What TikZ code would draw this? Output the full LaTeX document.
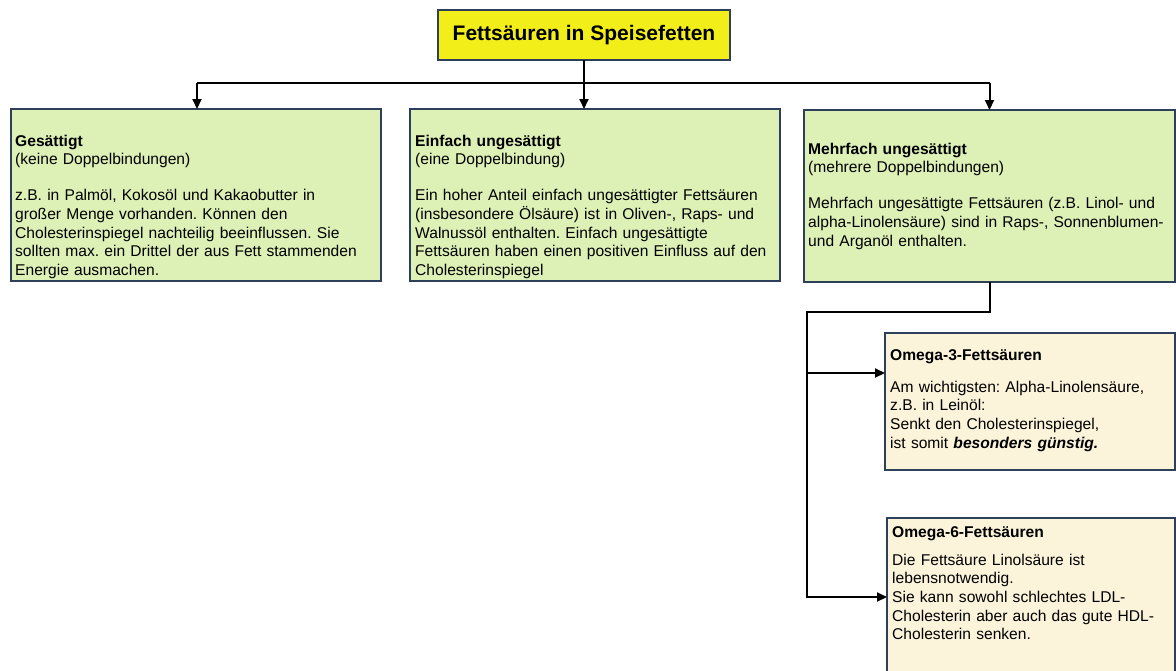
\documentclass[tikz,border=0pt]{standalone}
\usepackage{fontspec}
\setmainfont{Liberation Sans}
\usetikzlibrary{arrows.meta}
\frenchspacing
\definecolor{frame}{HTML}{2E3F5C}
\definecolor{titlefill}{HTML}{F2EE1A}
\definecolor{greenfill}{HTML}{DDF0B6}
\definecolor{creamfill}{HTML}{FBF3DA}
\tikzset{
  box/.style={draw=frame, line width=1.8pt, anchor=north west, inner sep=0pt, outer sep=0pt},
  gbox/.style={box, fill=greenfill},
  obox/.style={box, fill=creamfill},
  txt/.style={anchor=base west, inner sep=0pt, align=left, text width=370pt,
    font=\fontsize{15.6}{18.7}\selectfont},
  conn/.style={line width=2pt, black},
  arr/.style={conn, -{Triangle[length=10pt, width=9pt]}}
}
\begin{document}
\begin{tikzpicture}[x=1pt,y=-1pt]
\useasboundingbox (0,0) rectangle (1176,670);
\clip (0,0) rectangle (1176,670);
% title
\node[box, fill=titlefill, minimum width=292pt, minimum height=50pt,
  font=\fontsize{21}{24}\selectfont\bfseries] (title) at (438,10) {Fettsäuren in Speisefetten};
% main boxes
\node[gbox, minimum width=370pt, minimum height=172pt] (box1) at (11,109) {};
\node[gbox, minimum width=370pt, minimum height=172pt] (box2) at (410,109) {};
\node[gbox, minimum width=371pt, minimum height=172pt] (box3) at (804,110) {};
\node[obox, minimum width=290pt, minimum height=137pt] (om3) at (885,333) {};
\node[obox, minimum width=288pt, minimum height=170pt] (om6) at (887,518) {};
% texts
\node[txt] (t1) at (15,146) {\textbf{Gesättigt}\\(keine Doppelbindungen)\\[17.3pt]
z.B. in Palmöl, Kokosöl und Kakaobutter in\\
großer Menge vorhanden. Können den\\
Cholesterinspiegel nachteilig beeinflussen. Sie\\
sollten max. ein Drittel der aus Fett stammenden\\
Energie ausmachen.};
\node[txt] (t2) at (415,146) {\textbf{Einfach ungesättigt}\\(eine Doppelbindung)\\[17.3pt]
Ein hoher Anteil einfach ungesättigter Fettsäuren\\
(insbesondere Ölsäure) ist in Oliven-, Raps- und\\
Walnussöl enthalten. Einfach ungesättigte\\
Fettsäuren haben einen positiven Einfluss auf den\\
Cholesterinspiegel};
\node[txt] (t3) at (808,154) {\textbf{Mehrfach ungesättigt}\\(mehrere Doppelbindungen)\\[17.3pt]
Mehrfach ungesättigte Fettsäuren (z.B. Linol- und\\
alpha-Linolensäure) sind in Raps-, Sonnenblumen-\\
und Arganöl enthalten.};
\node[txt] (t4) at (890,360) {\textbf{Omega-3-Fettsäuren}\\[13.3pt]
Am wichtigsten: Alpha-Linolensäure,\\
z.B. in Leinöl:\\
Senkt den Cholesterinspiegel,\\
ist somit \textbf{\textit{besonders günstig.}}};
\node[txt] (t5) at (892,537) {\textbf{Omega-6-Fettsäuren}\\[9.3pt]
Die Fettsäure Linolsäure ist\\
lebensnotwendig.\\
Sie kann sowohl schlechtes LDL-\\
Cholesterin aber auch das gute HDL-\\
Cholesterin senken.};
% connectors
\coordinate (hl) at (197,83);
\coordinate (hr) at (989.5,83);
\draw[conn] (hl) -- (hr);
\draw[arr] (title.south) -- (title.south |- box2.north);
\draw[arr] (hl) -- (hl |- box1.north);
\draw[arr] (hr) -- (hr |- box3.north);
\coordinate (b1) at (989.5,312);
\coordinate (b2) at (807,312);
\coordinate (b3) at (807,597);
\coordinate (b4) at (807,373);
\draw[arr] (box3.south -| b1) -- (b1) -- (b2) -- (b3) -- (b3 -| om6.west);
\draw[arr] (b4) -- (b4 -| om3.west);
\end{tikzpicture}
\end{document}
